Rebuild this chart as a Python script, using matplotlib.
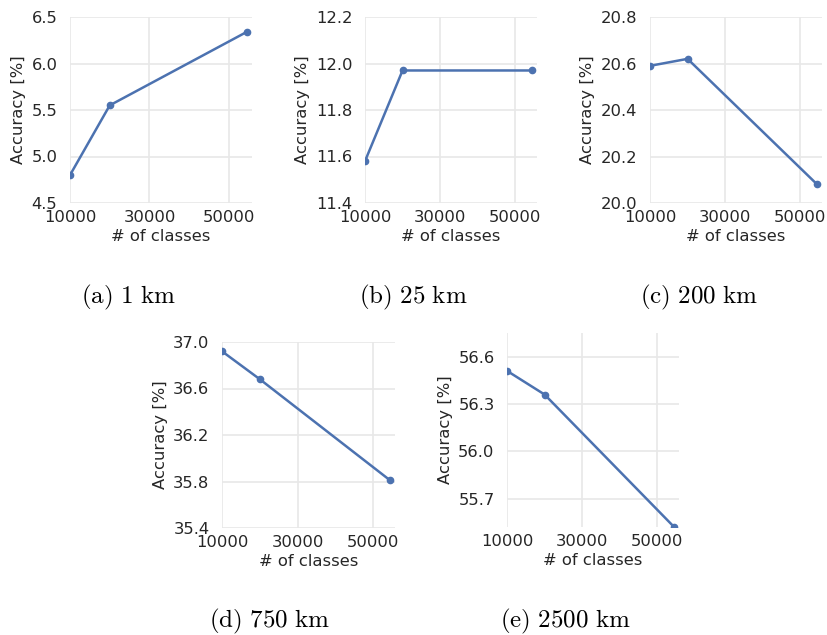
import numpy as np
import matplotlib
matplotlib.use("Agg")
from matplotlib import pyplot as plt

# Data
classes = [10000, 20000, 54500]
acc_1km = [4.80, 5.55, 6.34]
acc_25km = [11.58, 11.97, 11.97]
acc_200km = [20.59, 20.62, 20.08]
acc_750km = [36.92, 36.68, 35.81]
acc_2500km = [56.51, 56.36, 55.52]
captions = ["(a)\\ 1\\ km", "(b)\\ 25\\ km", "(c)\\ 200\\ km", "(d)\\ 750\\ km", "(e)\\ 2500\\ km"]
yticks = [
    [4.5, 5.0, 5.5, 6.0, 6.5],
    [11.4, 11.6, 11.8, 12.0, 12.2],
    [20.0, 20.2, 20.4, 20.6, 20.8],
    [35.4, 35.8, 36.2, 36.6, 37.0],
    [55.7, 56.0, 56.3, 56.6],
]
ylims = [(4.5, 6.5), (11.4, 12.2), (20.0, 20.8), (35.4, 37.0), (55.52, 56.75)]
series = [acc_1km, acc_25km, acc_200km, acc_750km, acc_2500km]

plt.rcParams['mathtext.fontset'] = 'cm'
plt.rcParams['font.family'] = 'DejaVu Sans'

W, H = 827, 635
fig = plt.figure(figsize=(W / 100, H / 100), dpi=100)

# axes boxes in pixels: left, top, right, bottom
boxes = [(70, 17, 252, 203), (365, 17, 537, 203), (650, 17, 822, 203),
         (222, 342, 395, 528), (507, 333, 679, 527)]
cap_pos = [(128, 297), (413, 297), (699, 297), (270, 621), (565, 621)]

line_col = '#4C72B0'
grid_col = '#e8e8e8'
txt_col = '#262626'

for i in range(5):
    l, t, r, b = boxes[i]
    ax = fig.add_axes([l / W, 1 - b / H, (r - l) / W, (b - t) / H])
    ax.plot(classes, series[i], '-o', color=line_col, lw=1.8, ms=4.5)
    ax.set_xlim(10000, 55800)
    ax.set_ylim(*ylims[i])
    ax.set_xticks([10000, 30000, 50000])
    ax.set_yticks(yticks[i])
    ax.set_yticklabels([f'{v:.1f}' for v in yticks[i]])
    ax.grid(True, color=grid_col, lw=1.2)
    ax.set_axisbelow(True)
    for s in ax.spines.values():
        s.set_visible(False)
    ax.tick_params(length=0, labelsize=11.8, colors=txt_col)
    ax.tick_params(axis='y', pad=9)
    ax.tick_params(axis='x', pad=5)
    ax.set_xlabel('# of classes', fontsize=11.8, color=txt_col, labelpad=3)
    ax.set_ylabel('Accuracy [%]', fontsize=11.8, color=txt_col, labelpad=4)
    cx, cy = cap_pos[i]
    fig.text(cx / W, 1 - cy / H, '$\\mathrm{' + captions[i] + '}$',
             ha='center', va='center', fontsize=18)

fig.savefig('out.png', dpi=100)
